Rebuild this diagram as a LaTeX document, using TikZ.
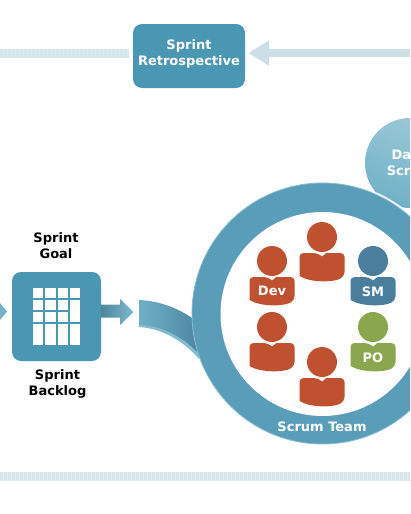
\documentclass[tikz,border=0pt]{standalone}
\usepackage{fontspec}
\setmainfont{DejaVu Sans}
\usetikzlibrary{arrows.meta}

\definecolor{boxblue}{HTML}{4A97B4}
\definecolor{ringdark}{HTML}{5A9DB8}
\definecolor{ringlight}{HTML}{70B1C7}
\definecolor{flowpale}{HTML}{CCDFE7}
\definecolor{stripe}{HTML}{D5E5EB}
\definecolor{devred}{HTML}{C05130}
\definecolor{smblue}{HTML}{4A7E9C}
\definecolor{pogreen}{HTML}{8AA64E}

\tikzset{
  board/.style={fill=boxblue,rounded corners=9pt,inner sep=0pt},
  darklabel/.style={align=center,font=\fontsize{13}{16}\selectfont\bfseries},
  whitelabel/.style={darklabel,text=white},
  stripebar/.style={line width=9pt,stripe!75},
  stripes/.style={line width=9pt,stripe,dash pattern=on 3pt off 1pt},
  person/.pic={
    \path[pic actions] (0,0) circle (15);
    \path[pic actions,rounded corners=4pt] (-22.5,39) -- (-22.5,16) -- (-4.5,16)
      [sharp corners] -- (0,19.5) -- (4.5,16)
      [rounded corners=4pt] -- (22.5,16) -- (22.5,39)
      [sharp corners] .. controls (12,45.7) and (-12,45.7) .. cycle;
  }
}

\begin{document}
\begin{tikzpicture}[x=1pt,y=-1pt]
  \useasboundingbox[fill=white] (0,0) rectangle (410,514);
  \clip (0,0) rectangle (410,514);

  % top flow
  \node[board,minimum width=112pt,minimum height=64pt] (retro) at (189,56) {};
  \node[whitelabel] (retrolbl) at (189,54) {Sprint\\Retrospective};
  \coordinate (topleft) at (0,53);
  \coordinate (topright) at (410,53);
  \draw[stripebar] (topleft) -- (129,53);
  \draw[stripes] (topleft) -- (129,53);
  \draw[-{Triangle[length=21pt,width=24pt]},line width=8pt,flowpale,shorten >=3pt] (topright) -- (retro.east |- topright);

  % bottom flow
  \coordinate (baseleft) at (0,476.5);
  \coordinate (baseright) at (410,476.5);
  \draw[stripebar,opacity=.8] (baseleft) -- (baseright);
  \draw[stripes,opacity=.8] (baseleft) -- (baseright);

  % backlog
  \fill[ringlight] (0,303) -- (7,311.5) -- (0,320) -- cycle;
  \node[board,minimum size=89pt] (backlog) at (56.5,316.5) {};
  \foreach \xa/\xb in {33/43,45/56,58/68,70/80}
    \foreach \ya/\yb in {288/298,300/310,312/322,324/345}
      \fill[white] (\xa,\ya) rectangle (\xb,\yb);
  \fill[white] (70,309) rectangle (80,313);
  \node[darklabel] (goal) at (56,246) {Sprint\\Goal};
  \node[darklabel] (blog) at (57.5,384) {Sprint\\Backlog};
  \shade[left color=ringdark!85!black,right color=ringlight!90!white]
    (101,304.5) -- (120,304.5) -- (120,299) -- (133.5,312) -- (120,325) -- (120,317.5) -- (101,317.5) -- cycle;

  % daily scrum
  \node[circle,minimum size=90pt,inner sep=0pt,shade,top color=ringlight!70!white,bottom color=ringlight,
    shading angle=-20,whitelabel] (daily) at (410,163) {Daily\\Scrum};
  \node[circle,minimum size=265pt,inner sep=0pt,fill=white] (halo) at (322.5,313.5) {};

  % band into the ring
  \fill[ringlight!85!white] (139,312) -- (139,327) .. controls (160,328) and (183,340) .. (199,359) -- (205,340) -- (170,312) -- cycle;
  \shade[left color=ringlight,right color=smblue!80!ringdark]
    (139,300) .. controls (158,301) and (178,307) .. (196,321) -- (200,355)
    .. controls (183,336) and (160,325) .. (139,325) -- cycle;

  % team ring
  \node[circle,minimum size=261pt,inner sep=0pt,shade,top color=ringdark,middle color=ringlight,bottom color=ringdark,
    draw=ringlight!85!white,line width=.8pt] (ring) at (322.5,313.5) {};
  \node[circle,minimum size=204pt,inner sep=0pt,fill=white] (team) at (322.5,314) {};
  \node[whitelabel] (teamlbl) at (322,427) {Scrum Team};

  % people
  \pic[fill=devred] at (322,237) {person};
  \pic[fill=devred] at (272,261) {person};
  \pic[fill=smblue] at (373,261) {person};
  \pic[fill=devred] at (272,327) {person};
  \pic[fill=pogreen] at (373,327) {person};
  \pic[fill=devred] at (322,362) {person};
  \node[whitelabel] (dev) at (272,291) {Dev};
  \node[whitelabel] (sm) at (373,292) {SM};
  \node[whitelabel] (po) at (373,358) {PO};
\end{tikzpicture}
\end{document}
